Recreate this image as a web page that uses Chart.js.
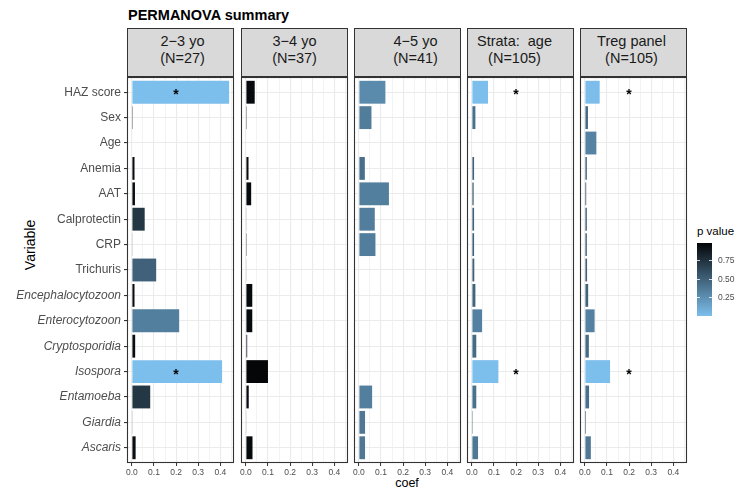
<!DOCTYPE html>
<html>
<head>
<meta charset="utf-8">
<script src="https://cdn.jsdelivr.net/npm/chart.js@4.4.1/dist/chart.umd.min.js"></script>
<style>
body { margin: 0; background: #fff; }
#wrap { position: relative; width: 736px; height: 489px; overflow: hidden; font-family: "Liberation Sans", Arial, sans-serif; color: #1a1a1a; }
.strip { position: absolute; top: 28px; height: 49px; box-sizing: border-box; border: 1.1px solid #333; background: #d9d9d9;
  font-size: 14.5px; line-height: 16.6px; padding-top: 4.4px; text-align: center; white-space: pre; }
canvas { position: absolute; }
.lab { position: absolute; white-space: nowrap; line-height: 1; }
</style>
</head>
<body>
<div id="wrap">
  <div class="lab" style="left:128px;top:8px;font-size:14.5px;font-weight:bold;color:#000">PERMANOVA summary</div>
  <div class="lab" style="left:30px;top:245px;font-size:14px;color:#000;transform:translate(-50%,-50%) rotate(-90deg)">Variable</div>
  <div class="lab" style="left:407px;top:477px;font-size:12.5px;color:#000;transform:translateX(-50%)">coef</div>
  <div class="lab" style="left:697px;top:226px;font-size:11.5px;color:#000">p value</div>
</div>
<script>
// variables (rows, top to bottom)
const variables = ['HAZ score', 'Sex', 'Age', 'Anemia', 'AAT', 'Calprotectin', 'CRP', 'Trichuris',
  'Encephalocytozoon', 'Enterocytozoon', 'Cryptosporidia', 'Isospora', 'Entamoeba', 'Giardia', 'Ascaris'];
const italicVars = ['Encephalocytozoon', 'Enterocytozoon', 'Cryptosporidia', 'Isospora', 'Entamoeba', 'Giardia', 'Ascaris'];

// facets
const groups = ['2\u22123 yo', '3\u22124 yo', '4\u22125 yo', 'Strata:  age', 'Treg panel'];
const groupN = [27, 37, 41, 105, 105];

// coef per facet (null = not tested)
const coef23    = [0.44, 0.004, null, 0.012, 0.014, 0.058, 0.003, 0.11, 0.012, 0.214, 0.015, 0.408, 0.083, 0.002, 0.017];
const coef34    = [0.04, 0.004, null, 0.012, 0.024, 0.003, 0.004, 0.002, 0.029, 0.029, 0.006, 0.10, 0.013, 0.002, 0.03];
const coef45    = [0.12, 0.057, null, 0.027, 0.136, 0.072, 0.075, null, null, null, null, null, 0.06, 0.028, 0.028];
const coefStrat = [0.073, 0.016, null, 0.01, 0.008, 0.01, 0.01, 0.011, 0.016, 0.046, 0.02, 0.12, 0.02, 0.004, 0.028];
const coefTreg  = [0.067, 0.014, 0.052, 0.009, 0.006, 0.009, 0.009, 0.01, 0.015, 0.044, 0.018, 0.114, 0.019, 0.005, 0.027];

// p values per facet
const p23    = [0.004, 0.9, null, 0.95, 0.95, 0.73, 0.9, 0.5, 0.95, 0.34, 0.95, 0.006, 0.73, 0.98, 0.95];
const p34    = [0.97, 0.9, null, 0.95, 0.97, 0.9, 0.85, 0.8, 0.97, 0.97, 0.85, 0.99, 0.95, 0.8, 0.97];
const p45    = [0.28, 0.36, null, 0.43, 0.34, 0.35, 0.35, null, null, null, null, null, 0.34, 0.38, 0.38];
const pStrat = [0.004, 0.42, null, 0.5, 0.55, 0.5, 0.5, 0.5, 0.48, 0.33, 0.45, 0.004, 0.42, 0.6, 0.38];
const pTreg  = [0.008, 0.45, 0.32, 0.5, 0.6, 0.5, 0.5, 0.5, 0.48, 0.33, 0.45, 0.004, 0.42, 0.6, 0.38];

// axis breaks
const xBreaks = [0, 0.05, 0.1, 0.15, 0.2, 0.25, 0.3, 0.35, 0.4, 0.45];
const legendTicks = [0.25, 0.5, 0.75];

const coefs = [coef23, coef34, coef45, coefStrat, coefTreg];
const pvals = [p23, p34, p45, pStrat, pTreg];

const FONT = '"Liberation Sans", Arial, sans-serif';
const panelLeft = [127, 241, 354, 467, 580];
const panelW = 107, panelTop = 77, panelH = 386, xAxisH = 24;
const stripShift = [2, 0, 8, -6, -2];
const xMin = -0.022, xMax = 0.462;

const allP = pvals.flat().filter(v => v != null);
const pMin = Math.min(...allP), pMax = Math.max(...allP);
const lowRGB = [124, 190, 236], highRGB = [4, 6, 8];

function pColor(p) {
    const t = (p - pMin) / (pMax - pMin);
    const c = lowRGB.map((lo, k) => Math.round(lo * (1 - t) + highRGB[k] * t));
    return 'rgb(' + c.join(',') + ')';
}

function isMajor(v) {
    return Math.abs(v * 10 - Math.round(v * 10)) < 1e-6;
}

const framePlugin = {
    id: 'frame',
    afterDraw(chart) {
        const a = chart.chartArea, c = chart.ctx;
        c.save();
        c.strokeStyle = '#333';
        c.lineWidth = 1.1;
        c.strokeRect(a.left + 0.5, a.top + 0.5, a.right - a.left - 1, a.bottom - a.top - 1);
        c.restore();
    }
};

function starPlugin(pv) {
    return {
        id: 'stars',
        afterDatasetsDraw(chart) {
            const c = chart.ctx;
            const sx = chart.scales.x.getPixelForValue(0.2);
            c.save();
            c.fillStyle = '#000';
            c.font = 'bold 14px ' + FONT;
            c.textAlign = 'center';
            c.textBaseline = 'alphabetic';
            pv.forEach((p, k) => {
                if (p != null && p < 0.05) c.fillText('*', sx, chart.scales.y.getPixelForValue(k) + 7);
            });
            c.restore();
        }
    };
}

const wrap = document.getElementById('wrap');

groups.forEach((g, i) => {
    const s = document.createElement('div');
    s.className = 'strip';
    s.style.left = panelLeft[i] + 'px';
    s.style.width = panelW + 'px';
    s.innerHTML = '<div style="position:relative;left:' + stripShift[i] + 'px">' + g + '\n(N=' + groupN[i] + ')</div>';
    wrap.appendChild(s);
});

function makePanel(i) {
    const first = i === 0;
    const yW = first ? panelLeft[0] : 6;
    const cv = document.createElement('canvas');
    const w = yW + panelW + 1, h = 1 + panelH + xAxisH;
    cv.width = w; cv.height = h;
    cv.style.left = (panelLeft[i] - yW) + 'px';
    cv.style.top = (panelTop - 1) + 'px';
    cv.style.width = w + 'px'; cv.style.height = h + 'px';
    wrap.appendChild(cv);

    const pts = [], cols = [];
    coefs[i].forEach((c, k) => {
        if (c != null) { pts.push({x: c, y: k}); cols.push(pColor(pvals[i][k])); }
    });

    new Chart(cv, {
        type: 'bar',
        data: {
            datasets: [{
                data: pts,
                backgroundColor: cols,
                borderWidth: 0,
                barPercentage: 0.9,
                categoryPercentage: 1.0
            }]
        },
        options: {
            indexAxis: 'y',
            responsive: false,
            animation: false,
            events: [],
            layout: {padding: {top: 1, right: 1, left: 0, bottom: 0}},
            plugins: {legend: {display: false}, tooltip: {enabled: false}},
            scales: {
                x: {
                    type: 'linear', bounds: 'data', min: xMin, max: xMax, offset: false,
                    afterBuildTicks: s => { s.ticks = xBreaks.map(v => ({value: v})); },
                    afterFit: s => { s.height = xAxisH; s.paddingLeft = 0; s.paddingRight = 0; },
                    border: {display: false},
                    grid: {
                        offset: false,
                        color: '#ebebeb',
                        lineWidth: ctx => (ctx.tick && isMajor(ctx.tick.value)) ? 1.1 : 0.6,
                        tickColor: ctx => (ctx.tick && isMajor(ctx.tick.value)) ? '#333' : 'rgba(0,0,0,0)',
                        tickLength: 3,
                        tickWidth: 1
                    },
                    ticks: {
                        autoSkip: false, maxRotation: 0, padding: 2, color: '#4d4d4d',
                        font: {family: FONT, size: 8.5},
                        callback: v => isMajor(v) ? v.toFixed(1) : ''
                    }
                },
                y: {
                    type: 'linear', bounds: 'data', reverse: true, min: -0.6, max: variables.length - 0.4, offset: false,
                    afterBuildTicks: s => { s.ticks = variables.map((v, k) => ({value: k})); },
                    afterFit: s => { s.width = yW; s.paddingTop = 0; s.paddingBottom = 0; },
                    border: {display: false},
                    grid: {offset: false, color: '#ebebeb', lineWidth: 1.1, tickColor: '#333', tickLength: 3, drawTicks: first},
                    ticks: {
                        display: first, autoSkip: false, padding: 3, color: '#4d4d4d',
                        font: ctx => ({family: FONT, size: 12,
                            style: (ctx.tick && italicVars.includes(variables[ctx.tick.value])) ? 'italic' : 'normal'}),
                        callback: v => variables[Math.round(v)]
                    }
                }
            }
        },
        plugins: [framePlugin, starPlugin(pvals[i])]
    });
}

for (let i = 0; i < groups.length; i++) makePanel(i);

// colour bar legend
const barLeft = 697, barTop = 243, barW = 15, barH = 73;
const bar = document.createElement('div');
bar.style.cssText = 'position:absolute;left:' + barLeft + 'px;top:' + barTop + 'px;width:' + barW + 'px;height:' + barH +
    'px;background:linear-gradient(to top,' + pColor(pMin) + ',' + pColor(pMax) + ')';
wrap.appendChild(bar);
legendTicks.forEach(v => {
    const y = barTop + (pMax - v) / (pMax - pMin) * barH;
    [0, barW - 3].forEach(dx => {
        const t = document.createElement('div');
        t.style.cssText = 'position:absolute;left:' + (barLeft + dx) + 'px;top:' + (y - 0.5) + 'px;width:3px;height:1px;background:rgba(255,255,255,0.8)';
        wrap.appendChild(t);
    });
    const l = document.createElement('div');
    l.className = 'lab';
    l.style.cssText += 'left:' + (barLeft + barW + 6) + 'px;top:' + (y - 4.5) + 'px;font-size:8.5px;color:#4d4d4d';
    l.textContent = v.toFixed(2);
    wrap.appendChild(l);
});
</script>
</body>
</html>
